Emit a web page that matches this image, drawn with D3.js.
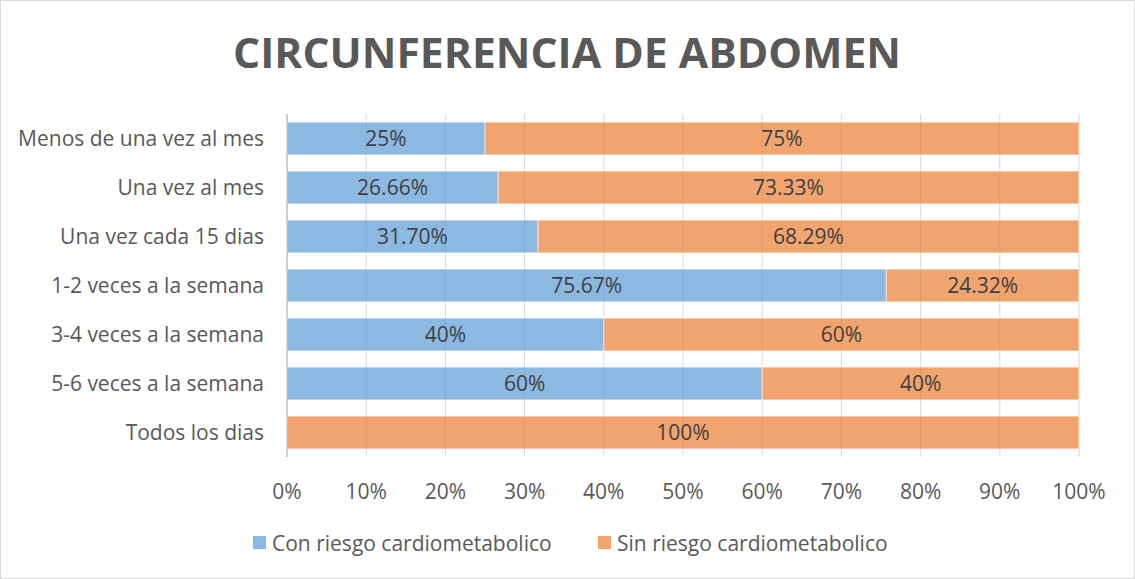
<!DOCTYPE html>
<html><head><meta charset="utf-8">
<script src="https://cdn.jsdelivr.net/npm/d3@7"></script>
<style>body{margin:0;background:#fff}svg{display:block}text{font-family:"Open Sans",Lato,sans-serif}</style>
</head><body><svg id="c" width="1135" height="579"></svg>
<script>
const categories=["Menos de una vez al mes","Una vez al mes","Una vez cada 15 dias","1-2 veces a la semana","3-4 veces a la semana","5-6 veces a la semana ","Todos los dias"];
const conRiesgo=[25,26.66,31.70,75.67,40,60,0];
const sinRiesgo=[75,73.33,68.29,24.32,60,40,100];
const conLabels=["25%","26.66%","31.70%","75.67%","40%","60%",""];
const sinLabels=["75%","73.33%","68.29%","24.32%","60%","40%","100%"];
const seriesNames=["Con riesgo cardiometabolico","Sin riesgo cardiometabolico"];
const ticks=[0,10,20,30,40,50,60,70,80,90,100];
const colors=["#5B9BD5","#ED7D31"];

const svg=d3.select("#c");
svg.append("rect").attr("x",0.5).attr("y",0.5).attr("width",1134).attr("height",578).attr("fill","#fff").attr("stroke","#d9d9d9");
const x=d3.scaleLinear().domain([0,100]).range([287,1079]);
const y=d3.scaleBand().domain(categories).range([114,457]).paddingInner(0.33).paddingOuter(0.165);
const txt="#595959";
const fs=21;
svg.append("text").attr("x",567).attr("y",68).attr("text-anchor","middle").attr("font-size",42).attr("font-weight","bold").attr("fill",txt).attr("textLength",668).attr("lengthAdjust","spacingAndGlyphs").text("CIRCUNFERENCIA DE ABDOMEN");
svg.append("g").selectAll("line").data(ticks).join("line").attr("x1",d=>x(d)).attr("x2",d=>x(d)).attr("y1",114).attr("y2",457).attr("stroke",d=>d===0?"#bfbfbf":"#d9d9d9").attr("stroke-width",d=>d===0?1.5:1);
const g=svg.append("g");
categories.forEach((c,i)=>{
  const segs=[{s:0,x0:0,x1:conRiesgo[i],lab:conLabels[i]},{s:1,x0:conRiesgo[i],x1:conRiesgo[i]+sinRiesgo[i],lab:sinLabels[i]}];
  segs.forEach(sg=>{
    if(sg.x1-sg.x0<=0)return;
    g.append("rect").attr("x",x(sg.x0)).attr("y",y(c)).attr("width",x(Math.min(sg.x1,100))-x(sg.x0)).attr("height",y.bandwidth()).attr("fill",colors[sg.s]).attr("fill-opacity",0.7).attr("stroke","#fff").attr("stroke-opacity",0.6).attr("stroke-width",1);
    g.append("text").attr("x",(x(sg.x0)+x(Math.min(sg.x1,100)))/2).attr("y",y(c)+y.bandwidth()/2+7.5).attr("text-anchor","middle").attr("font-size",fs).attr("fill","#404040").text(sg.lab);
  });
});
svg.append("g").selectAll("text").data(categories).join("text").attr("x",264).attr("y",d=>y(d)+y.bandwidth()/2+7.5).attr("text-anchor","end").attr("font-size",fs).attr("fill",txt).text(d=>d);
svg.append("g").selectAll("text").data(ticks).join("text").attr("x",d=>x(d)).attr("y",499).attr("text-anchor","middle").attr("font-size",fs).attr("fill",txt).text(d=>d+"%");
const leg=[{n:seriesNames[0],c:colors[0],x:253},{n:seriesNames[1],c:colors[1],x:598}];
leg.forEach(l=>{
  svg.append("rect").attr("x",l.x).attr("y",536).attr("width",13).attr("height",13).attr("fill",l.c).attr("fill-opacity",0.7);
  svg.append("text").attr("x",l.x+19).attr("y",551).attr("font-size",fs).attr("fill",txt).text(l.n);
});
</script></body></html>
